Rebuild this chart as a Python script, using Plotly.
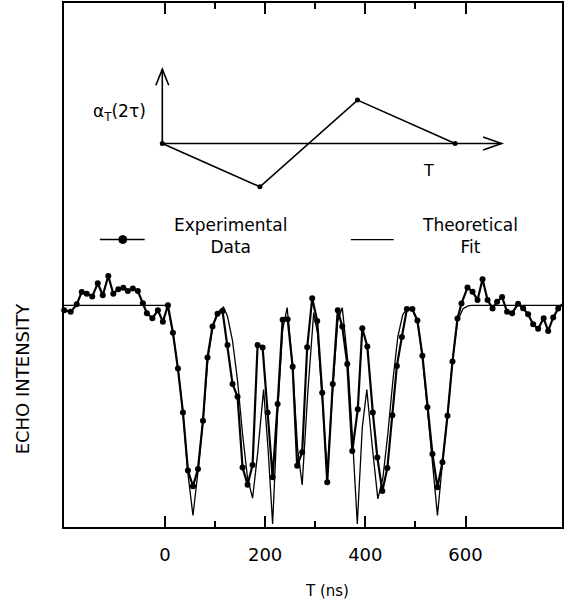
import plotly.graph_objects as go

# ---------------- data ----------------
exp_T = [-201, -188, -176, -166, -156, -145, -134, -124, -113, -103, -93, -83, -74, -64, -54, -44, -36, -25, -14, -4,
         6, 16, 26, 36, 46, 56, 66, 76, 85, 95,
         105, 115, 125, 135, 145, 155, 165, 175, 185, 195,
         205, 215, 225, 235, 245, 255, 264, 274, 284, 294,
         304, 314, 324, 335, 345, 354, 364, 374, 385, 394,
         404, 415, 424, 434, 444, 454, 463, 473, 483, 494,
         504, 514, 524, 534, 544, 554, 564, 574, 584, 592,
         604, 614, 624, 634, 644, 654, 663, 673, 683, 693,
         705, 715, 725, 735, 745, 756, 765, 775, 785, 793]
exp_I = [0.978, 0.971, 1.005, 1.061, 1.053, 1.040, 1.100, 1.046, 1.133, 1.053, 1.073, 1.080, 1.065, 1.076, 1.065, 1.010, 0.965, 0.942, 0.978, 0.926,
         1.001, 0.877, 0.715, 0.517, 0.255, 0.184, 0.262, 0.480, 0.765, 0.905,
         0.963, 0.975, 0.821, 0.645, 0.588, 0.269, 0.191, 0.280, 0.821, 0.810,
         0.517, 0.224, 0.555, 0.935, 0.938, 0.723, 0.277, 0.337, 0.811, 1.032,
         0.930, 0.606, 0.202, 0.645, 0.978, 0.905, 0.736, 0.343, 0.532, 0.897,
         0.815, 0.517, 0.314, 0.162, 0.266, 0.504, 0.727, 0.858, 0.984, 0.984,
         0.932, 0.773, 0.540, 0.330, 0.179, 0.292, 0.502, 0.747, 0.941, 1.009,
         1.081, 1.062, 1.025, 1.118, 1.025, 0.986, 1.017, 1.038, 0.971, 0.965,
         1.008, 0.987, 0.960, 0.915, 0.895, 0.942, 0.885, 0.945, 0.986, 1.005]

fit_T = [-202, 0, 6, 16, 26, 36, 46, 56, 66, 76,
         86, 96, 106, 117, 125, 135, 145, 155, 165, 175,
         185, 197, 206, 215, 225, 235, 244, 255, 265, 274,
         285, 297, 305, 315, 324, 335, 345, 354, 365, 375,
         384, 394, 403, 414, 425, 435, 445, 455, 465, 475,
         486, 494, 504, 514, 524, 534, 544, 554, 564, 574,
         584, 595, 605, 612, 795]
fit_I = [1.0, 1.0, 0.99, 0.877, 0.715, 0.517, 0.24, 0.052, 0.25, 0.48,
         0.765, 0.91, 0.97, 0.993, 0.95, 0.84, 0.66, 0.42, 0.22, 0.13,
         0.33, 0.62, 0.35, 0.014, 0.52, 0.89, 0.99, 0.72, 0.35, 0.19,
         0.6, 0.968, 0.87, 0.52, 0.247, 0.62, 0.93, 0.99, 0.75, 0.38,
         0.014, 0.45, 0.62, 0.36, 0.127, 0.22, 0.42, 0.66, 0.86, 0.96,
         0.99, 0.98, 0.93, 0.77, 0.54, 0.3, 0.052, 0.29, 0.5, 0.75,
         0.93, 0.985, 0.998, 1.0, 1.0]

x_ticks = [0, 200, 400, 600]
x_minor = [100, 300, 500]

# inset schematic alpha_T(2tau) vs T
inset_x = [0, 1, 2, 3]
inset_y = [0, -1, 1, 0]

FONT = "DejaVu Sans"

fig = go.Figure()

fig.add_trace(go.Scatter(x=fit_T, y=fit_I, mode="lines",
                         line=dict(color="black", width=1.3),
                         cliponaxis=False, showlegend=False, hoverinfo="skip"))
fig.add_trace(go.Scatter(x=exp_T, y=exp_I, mode="lines+markers",
                         line=dict(color="black", width=2.2),
                         marker=dict(color="black", size=6),
                         cliponaxis=False, showlegend=False, hoverinfo="skip"))

# inset
fig.add_trace(go.Scatter(x=inset_x, y=inset_y, mode="lines+markers",
                         line=dict(color="black", width=1.6),
                         marker=dict(color="black", size=5),
                         xaxis="x2", yaxis="y2", cliponaxis=False, showlegend=False,
                         hoverinfo="skip"))

X2MAX, Y2MAX = 3.476, 1.714
shapes = [
    # inset axes
    dict(type="line", xref="x2", yref="y2", x0=0, y0=0, x1=X2MAX, y1=0, line=dict(color="black", width=1.6)),
    dict(type="line", xref="x2", yref="y2", x0=0, y0=0, x1=0, y1=Y2MAX, line=dict(color="black", width=1.6)),
    dict(type="path", xref="x2", yref="y2",
         path=f"M {X2MAX-0.19},{0.15} L {X2MAX},0 L {X2MAX-0.19},{-0.15}",
         line=dict(color="black", width=1.6)),
    dict(type="path", xref="x2", yref="y2",
         path=f"M {-0.066},{Y2MAX-0.37} L 0,{Y2MAX} L {0.066},{Y2MAX-0.37}",
         line=dict(color="black", width=1.6)),
    # legend samples
    dict(type="line", xref="paper", yref="paper", x0=0.072, y0=0.5486, x1=0.162, y1=0.5486,
         line=dict(color="black", width=1.6)),
    dict(type="circle", xref="paper", yref="paper", x0=0.118 - 0.008, y0=0.5486 - 0.0076,
         x1=0.118 + 0.008, y1=0.5486 + 0.0076, fillcolor="black", line=dict(color="black", width=1)),
    dict(type="line", xref="paper", yref="paper", x0=0.576, y0=0.5486, x1=0.662, y1=0.5486,
         line=dict(color="black", width=1.3)),
]

annotations = [
    dict(text="α<sub>T</sub>(2τ)", xref="x2", yref="y2", x=-0.15, y=0.714, xanchor="right",
         yanchor="middle", showarrow=False, font=dict(family=FONT, size=17, color="black")),
    dict(text="T", xref="x2", yref="y2", x=2.73, y=-0.63, xanchor="center", yanchor="middle",
         showarrow=False, font=dict(family=FONT, size=16, color="black")),
    dict(text="Experimental<br>Data", xref="paper", yref="paper", x=0.334, y=0.556, align="center",
         xanchor="center", yanchor="middle", showarrow=False,
         font=dict(family=FONT, size=17, color="black")),
    dict(text="Theoretical<br>Fit", xref="paper", yref="paper", x=0.816, y=0.556, align="center",
         xanchor="center", yanchor="middle", showarrow=False,
         font=dict(family=FONT, size=17, color="black")),
    dict(text="ECHO INTENSITY", xref="paper", yref="paper", x=-0.084, y=0.284, textangle=-90,
         xanchor="center", yanchor="middle", showarrow=False,
         font=dict(family=FONT, size=18, color="black")),
    dict(text="T (ns)", xref="paper", yref="paper", x=0.528, y=-0.122,
         xanchor="center", yanchor="middle", showarrow=False,
         font=dict(family=FONT, size=15, color="black")),
]

fig.update_layout(
    width=565, height=602,
    margin=dict(l=64, r=1, t=2, b=75),
    paper_bgcolor="white", plot_bgcolor="white",
    showlegend=False,
    shapes=shapes, annotations=annotations,
    xaxis=dict(range=[-201.4, 792.6], tickvals=x_ticks, ticktext=[str(v) for v in x_ticks],
               ticks="inside", ticklen=11, tickwidth=1.5, tickcolor="black",
               minor=dict(tickvals=x_minor, ticks="inside", ticklen=6, tickwidth=1.5, tickcolor="black"),
               showline=True, linecolor="black", linewidth=2, mirror="ticks",
               showgrid=False, zeroline=False, ticklabelstandoff=10,
               tickfont=dict(family=FONT, size=18, color="black")),
    yaxis=dict(range=[0, 2.365], showticklabels=False, ticks="",
               showline=True, linecolor="black", linewidth=2, mirror=True,
               showgrid=False, zeroline=False),
    xaxis2=dict(domain=[0.0014, 0.903], range=[-1.0, 3.6], anchor="y2", visible=False),
    yaxis2=dict(domain=[0.6162, 0.8891], range=[-1.4, 1.9], anchor="x2", visible=False),
)

fig.write_html(
    "out.html",
    config={"displayModeBar": False},
    post_script="document.body.style.margin='0px';document.body.style.padding='0px';"
                "document.body.style.overflow='hidden';",
)
